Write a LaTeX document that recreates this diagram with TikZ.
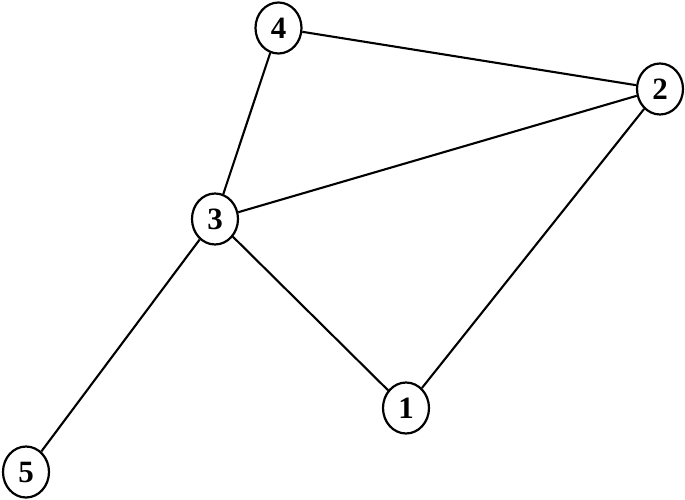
\documentclass[tikz,border=0pt]{standalone}
\usepackage{fontspec}
\setmainfont{Liberation Serif}
\usetikzlibrary{shapes.geometric}
\begin{document}
\begin{tikzpicture}[x=1pt,y=-1pt,
  vtx/.style={ellipse,draw,line width=2.2pt,minimum width=46pt,minimum height=51pt,inner sep=0pt,font=\fontsize{31}{34}\selectfont\bfseries},
  edge/.style={line width=2.1pt}]
\useasboundingbox (0,0) rectangle (685,500);
\node[vtx] (n4) at (278.5,28) {4};
\node[vtx] (n2) at (660,89) {2};
\node[vtx] (n3) at (215,219) {3};
\node[vtx] (n1) at (406,408) {1};
\node[vtx] (n5) at (26,472) {5};
\draw[edge] (n4) -- (n2);
\draw[edge] (n4) -- (n3);
\draw[edge] (n3) -- (n2);
\draw[edge] (n3) -- (n1);
\draw[edge] (n1) -- (n2);
\draw[edge] (n3) -- (n5);
\end{tikzpicture}
\end{document}
